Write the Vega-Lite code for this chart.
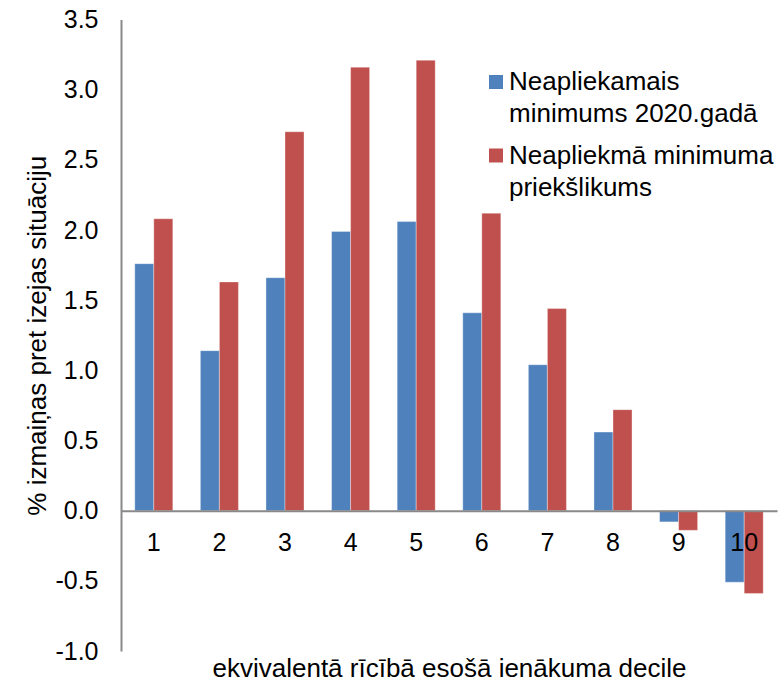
{
  "$schema": "https://vega.github.io/schema/vega-lite/v6.json",
  "autosize": "none",
  "width": 656,
  "height": 631.5,
  "padding": {"left": 121, "top": 19.5, "right": 7, "bottom": 34},
  "background": "white",
  "config": {
    "view": {"stroke": null},
    "font": "Liberation Sans",
    "style": {"guide-label": {"lineHeight": 32}}
  },
  "data": {
    "values": [
      {"decile": 1, "series": "Neapliekamais minimums 2020.gadā", "value": 1.76},
      {"decile": 1, "series": "Neapliekmā minimuma priekšlikums", "value": 2.08},
      {"decile": 2, "series": "Neapliekamais minimums 2020.gadā", "value": 1.14},
      {"decile": 2, "series": "Neapliekmā minimuma priekšlikums", "value": 1.63},
      {"decile": 3, "series": "Neapliekamais minimums 2020.gadā", "value": 1.66},
      {"decile": 3, "series": "Neapliekmā minimuma priekšlikums", "value": 2.70},
      {"decile": 4, "series": "Neapliekamais minimums 2020.gadā", "value": 1.99},
      {"decile": 4, "series": "Neapliekmā minimuma priekšlikums", "value": 3.16},
      {"decile": 5, "series": "Neapliekamais minimums 2020.gadā", "value": 2.06},
      {"decile": 5, "series": "Neapliekmā minimuma priekšlikums", "value": 3.21},
      {"decile": 6, "series": "Neapliekamais minimums 2020.gadā", "value": 1.41},
      {"decile": 6, "series": "Neapliekmā minimuma priekšlikums", "value": 2.12},
      {"decile": 7, "series": "Neapliekamais minimums 2020.gadā", "value": 1.04},
      {"decile": 7, "series": "Neapliekmā minimuma priekšlikums", "value": 1.44},
      {"decile": 8, "series": "Neapliekamais minimums 2020.gadā", "value": 0.56},
      {"decile": 8, "series": "Neapliekmā minimuma priekšlikums", "value": 0.72},
      {"decile": 9, "series": "Neapliekamais minimums 2020.gadā", "value": -0.08},
      {"decile": 9, "series": "Neapliekmā minimuma priekšlikums", "value": -0.14},
      {"decile": 10, "series": "Neapliekamais minimums 2020.gadā", "value": -0.51},
      {"decile": 10, "series": "Neapliekmā minimuma priekšlikums", "value": -0.59}
    ]
  },
  "mark": {"type": "bar", "stroke": "white", "strokeOpacity": 0.35, "strokeWidth": 1},
  "encoding": {
    "x": {
      "field": "decile",
      "type": "ordinal",
      "scale": {"paddingInner": 0.42, "paddingOuter": 0.21},
      "axis": {
        "title": "ekvivalentā rīcībā esošā ienākuma decile",
        "titleFontSize": 26,
        "titleFontWeight": "normal",
        "titleColor": "black",
        "titleBaseline": "alphabetic",
        "titleY": 166,
        "labelAngle": 0,
        "labelFontSize": 25,
        "labelColor": "black",
        "labelPadding": 20,
        "labelOverlap": false,
        "ticks": false,
        "tickSize": 0,
        "domainColor": "#898989",
        "domainWidth": 2,
        "offset": -140.3,
        "grid": false,
        "zindex": 1
      }
    },
    "xOffset": {
      "field": "series",
      "type": "nominal",
      "scale": {"paddingInner": 0, "paddingOuter": 0},
      "sort": ["Neapliekamais minimums 2020.gadā", "Neapliekmā minimuma priekšlikums"]
    },
    "y": {
      "field": "value",
      "type": "quantitative",
      "scale": {"domain": [-1, 3.5], "nice": false, "zero": false},
      "axis": {
        "title": "% izmaiņas pret izejas situāciju",
        "titleFontSize": 26,
        "titleFontWeight": "normal",
        "titleColor": "black",
        "titlePadding": 4,
        "values": [-1, -0.5, 0, 0.5, 1, 1.5, 2, 2.5, 3, 3.5],
        "labelExpr": "replace(format(datum.value, '.1f'), '\u2212', '-')",
        "labelFontSize": 25,
        "labelColor": "black",
        "labelPadding": 23,
        "ticks": false,
        "tickSize": 0,
        "grid": false,
        "domainColor": "#898989",
        "domainWidth": 2
      }
    },
    "color": {
      "field": "series",
      "type": "nominal",
      "scale": {
        "domain": ["Neapliekamais minimums 2020.gadā", "Neapliekmā minimuma priekšlikums"],
        "range": ["#4F81BD", "#C0504D"]
      },
      "legend": {
        "title": null,
        "orient": "none",
        "legendX": 362,
        "legendY": 49.5,
        "symbolType": "square",
        "symbolSize": 196,
        "symbolStrokeWidth": 0,
        "symbolOpacity": 1,
        "labelFontSize": 26,
        "labelColor": "black",
        "labelLimit": 500,
        "labelOffset": 0,
        "labelBaseline": "middle",
        "rowPadding": 15.5,
        "padding": 0,
        "labelExpr": "datum.label == 'Neapliekamais minimums 2020.gadā' ? ['Neapliekamais', 'minimums 2020.gadā'] : ['Neapliekmā minimuma', 'priekšlikums']"
      }
    }
  }
}
